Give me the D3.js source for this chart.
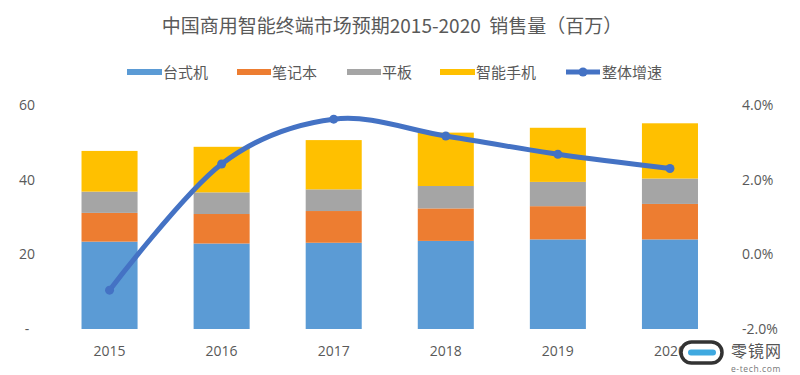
<!DOCTYPE html>
<html><head><meta charset="utf-8">
<script src="https://cdn.jsdelivr.net/npm/d3@7"></script>
<style>
html,body{margin:0;padding:0;background:#fff;}
svg{display:block;font-family:"Noto Sans CJK SC","Noto Sans",sans-serif;}
</style></head>
<body><svg id="c" width="800" height="375"></svg>
<script>
const years = ["2015","2016","2017","2018","2019","2020"];
const seriesNames = ["台式机","笔记本","平板","智能手机"];
const desktop = [23.4, 22.9, 23.1, 23.6, 24.0, 24.0];
const notebook = [7.7, 7.9, 8.5, 8.7, 8.9, 9.5];
const tablet = [5.7, 5.8, 5.8, 6.0, 6.5, 6.8];
const smartphone = [10.9, 12.2, 13.2, 14.3, 14.5, 14.8];
const growth = [-0.0096, 0.0242, 0.0362, 0.0317, 0.0268, 0.0230];
const leftTicks = [0, 20, 40, 60];
const rightTicks = [-0.02, 0, 0.02, 0.04];
const title = "中国商用智能终端市场预期2015-2020  销售量（百万）";
const lineName = "整体增速";
const colors = ["#5B9BD5","#ED7D31","#A5A5A5","#FFC000"];
const lineColor = "#4472C4";

const svg = d3.select("#c");
const x = d3.scaleBand().domain(years).range([53.5, 726]).paddingInner(0.5).paddingOuter(0.25);
const yL = d3.scaleLinear().domain([0, 60]).range([329, 105]);
const yR = d3.scaleLinear().domain([-0.02, 0.04]).range([329, 105]);

const rows = years.map((yr,i)=>({year:yr, "台式机":desktop[i], "笔记本":notebook[i], "平板":tablet[i], "智能手机":smartphone[i]}));
const stack = d3.stack().keys(seriesNames)(rows);

svg.append("text").attr("x", 392).attr("y", 33).attr("text-anchor","middle")
  .style("white-space","pre")
  .attr("font-size", 19).attr("fill","#595959").text(title);

// bars
svg.append("g").selectAll("g").data(stack).join("g").attr("fill",(d,i)=>colors[i])
  .selectAll("rect").data(d=>d).join("rect")
  .attr("x", d=>x(d.data.year)).attr("width", x.bandwidth())
  .attr("y", d=>yL(d[1])).attr("height", d=>yL(d[0])-yL(d[1]));

// left axis
const axL = svg.append("g").attr("transform","translate(38,0)")
  .call(d3.axisLeft(yL).tickValues(leftTicks).tickSize(0).tickPadding(0).tickFormat(d=>d===0?"-":d));
axL.select(".domain").remove();
axL.selectAll("text").attr("font-size",14).attr("fill","#595959").attr("text-anchor","middle").attr("x",-11)
  .style("font-family","'Open Sans','Noto Sans',sans-serif");

// right axis
const axR = svg.append("g").attr("transform","translate(742,0)")
  .call(d3.axisRight(yR).tickValues(rightTicks).tickSize(0).tickPadding(0)
    .tickFormat(d=>d3.format(".1%")(d).replace("\u2212","-")));
axR.select(".domain").remove();
axR.selectAll("text").attr("font-size",14).attr("fill","#595959")
  .style("font-family","'Open Sans','Noto Sans',sans-serif");

// bottom axis
const axB = svg.append("g").attr("transform","translate(0,329)")
  .call(d3.axisBottom(x).tickSize(0).tickPadding(17));
axB.select(".domain").remove();
axB.selectAll("text").attr("font-size",14).attr("fill","#595959")
  .style("font-family","'Open Sans','Noto Sans',sans-serif");

// line
const cx = d=>x(d)+x.bandwidth()/2;
const line = d3.line().x((d,i)=>cx(years[i])).y(d=>yR(d)).curve(d3.curveCardinal.tension(0));
svg.append("path").datum(growth).attr("d",line).attr("fill","none")
  .attr("stroke",lineColor).attr("stroke-width",5).attr("stroke-linecap","round");
svg.append("g").selectAll("circle").data(growth).join("circle")
  .attr("cx",(d,i)=>cx(years[i])).attr("cy",d=>yR(d)).attr("r",4.5).attr("fill",lineColor);

// legend
const leg = svg.append("g");
const legItems = [
  {name:"台式机", c:colors[0], sx:127, tx:163},
  {name:"笔记本", c:colors[1], sx:237, tx:272},
  {name:"平板", c:colors[2], sx:347, tx:382},
  {name:"智能手机", c:colors[3], sx:440, tx:476},
];
legItems.forEach(it=>{
  leg.append("rect").attr("x",it.sx).attr("y",69).attr("width",it.tx-it.sx-1).attr("height",6).attr("fill",it.c);
  leg.append("text").attr("x",it.tx).attr("y",77.5).attr("font-size",15).attr("fill","#595959").text(it.name);
});
leg.append("line").attr("x1",566).attr("x2",600).attr("y1",72).attr("y2",72).attr("stroke",lineColor).attr("stroke-width",5);
leg.append("circle").attr("cx",583).attr("cy",72).attr("r",4.5).attr("fill",lineColor);
leg.append("text").attr("x",602).attr("y",77.5).attr("font-size",15).attr("fill","#595959").text(lineName);

// watermark
const wm = svg.append("g");
wm.append("rect").attr("x",681).attr("y",342).attr("width",41).attr("height",21).attr("rx",10.5)
  .attr("fill","#fff").attr("stroke","#333").attr("stroke-width",3.5);
wm.append("rect").attr("x",688).attr("y",349.5).attr("width",28).attr("height",6).attr("rx",3).attr("fill","#3fa9e0");
wm.append("text").attr("x",731).attr("y",357).attr("font-size",16).attr("letter-spacing",1).attr("fill","#555").text("零镜网");
wm.append("text").attr("x",731).attr("y",372).attr("font-size",8.5).attr("fill","#777").attr("letter-spacing",0.6)
  .style("font-family","'Open Sans',sans-serif").text("e-tech.com");
</script></body></html>
